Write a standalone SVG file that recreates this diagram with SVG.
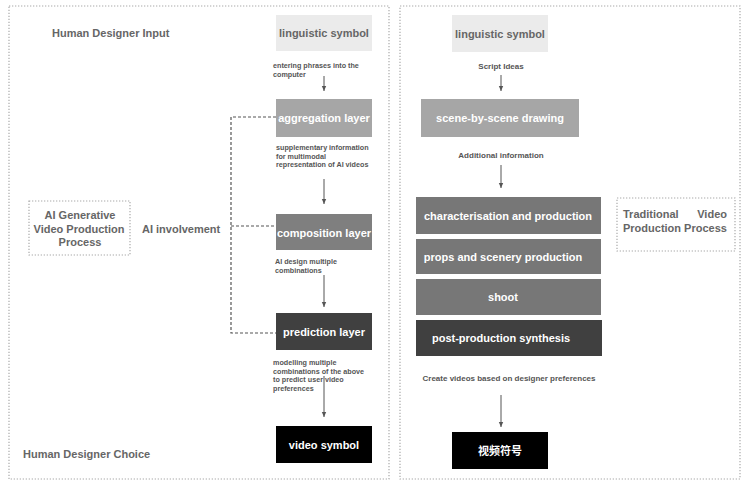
<svg xmlns="http://www.w3.org/2000/svg" width="742" height="481" viewBox="0 0 742 481">
<style>
text{font-family:"Liberation Sans",Arial,sans-serif;font-weight:bold}
.frame{fill:none;stroke:#aaa;stroke-width:1.2;stroke-dasharray:1.3 1.7}
.hd{font-size:11px;fill:#666}
.nt{font-size:11px;fill:#fff;text-anchor:middle}
.lt{font-size:7.2px;fill:#555}
.rt{font-size:8px;fill:#555;text-anchor:middle}
.con{fill:none;stroke:#555;stroke-width:1}
.dash{fill:none;stroke:#555;stroke-width:1.2;stroke-dasharray:3 2}
</style>
<defs>
<marker id="ah" markerWidth="6" markerHeight="6" refX="5" refY="3" orient="auto" markerUnits="userSpaceOnUse">
<path d="M0,0.8 L5,3 L0,5.2 Z" fill="#555"/>
</marker>
</defs>
<rect width="742" height="481" fill="#fff"/>
<g id="frames">
<rect class="frame" x="9" y="6" width="380" height="473"/>
<rect class="frame" x="400" y="6" width="340" height="473"/>
</g>
<g id="labels-left">
<text class="hd" x="52" y="37">Human Designer Input</text>
<text class="hd" x="23" y="458">Human Designer Choice</text>
<text class="hd" x="142" y="233">AI involvement</text>
</g>
<g id="ai-process">
<rect class="frame" x="29" y="201" width="101" height="54"/>
<text class="hd" x="80" y="219" text-anchor="middle">AI Generative</text>
<text class="hd" x="79" y="233" text-anchor="middle">Video Production</text>
<text class="hd" x="80" y="246" text-anchor="middle">Process</text>
</g>
<g id="trad-process">
<rect class="frame" x="617" y="198" width="118" height="53"/>
<text class="hd" x="623" y="218">Traditional</text>
<text class="hd" x="727" y="218" text-anchor="end">Video</text>
<text class="hd" x="623" y="232">Production Process</text>
</g>
<g id="connectors">
<line class="con" x1="324" y1="76" x2="324" y2="91" marker-end="url(#ah)"/>
<line class="con" x1="324" y1="179" x2="324" y2="204" marker-end="url(#ah)"/>
<line class="con" x1="324" y1="275" x2="324" y2="307" marker-end="url(#ah)"/>
<line class="con" x1="324" y1="376" x2="324" y2="417" marker-end="url(#ah)"/>
<line class="con" x1="501" y1="75" x2="501" y2="91" marker-end="url(#ah)"/>
<line class="con" x1="501" y1="165" x2="501" y2="188" marker-end="url(#ah)"/>
<line class="con" x1="501" y1="395" x2="501" y2="427" marker-end="url(#ah)"/>
<path class="dash" d="M276,117 H231 V333 H276"/>
<line class="dash" x1="231" y1="226" x2="276" y2="226"/>
</g>
<g id="edge-labels">
<text class="lt" x="273" y="68">entering phrases into the</text>
<text class="lt" x="273" y="77">computer</text>
<text class="lt" x="276" y="150">supplementary information</text>
<text class="lt" x="276" y="158.5">for multimodal</text>
<text class="lt" x="276" y="167">representation of AI videos</text>
<text class="lt" x="275" y="264">AI design multiple</text>
<text class="lt" x="275" y="273">combinations</text>
<text class="lt" x="273" y="365">modelling multiple</text>
<text class="lt" x="273" y="373.5">combinations of the above</text>
<text class="lt" x="273" y="382">to predict user video</text>
<text class="lt" x="273" y="390.5">preferences</text>
<text class="rt" x="501" y="69">Script Ideas</text>
<text class="rt" x="501" y="158">Additional information</text>
<text class="rt" x="509" y="381">Create videos based on designer preferences</text>
</g>
<g id="n-ling-left">
<rect x="276" y="15" width="96" height="36" fill="#ebebeb"/>
<text class="nt" x="324" y="37" style="fill:#666">linguistic symbol</text>
</g>
<g id="n-aggregation">
<rect x="276" y="99" width="96" height="38" fill="#a6a6a6"/>
<text class="nt" x="324" y="122">aggregation layer</text>
</g>
<g id="n-composition">
<rect x="276" y="214" width="96" height="36" fill="#7f7f7f"/>
<text class="nt" x="324" y="237">composition layer</text>
</g>
<g id="n-prediction">
<rect x="276" y="313" width="96" height="37" fill="#404040"/>
<text class="nt" x="324" y="336">prediction layer</text>
</g>
<g id="n-video">
<rect x="276" y="426" width="96" height="37" fill="#000"/>
<text class="nt" x="324" y="449">video symbol</text>
</g>
<g id="n-ling-right">
<rect x="452" y="15" width="96" height="37" fill="#ebebeb"/>
<text class="nt" x="500" y="38" style="fill:#666">linguistic symbol</text>
</g>
<g id="n-scene">
<rect x="421" y="99" width="158" height="38" fill="#a6a6a6"/>
<text class="nt" x="500" y="122">scene-by-scene drawing</text>
</g>
<g id="n-character">
<rect x="416" y="197" width="185" height="37" fill="#777"/>
<text class="nt" x="508" y="220">characterisation and production</text>
</g>
<g id="n-props">
<rect x="416" y="239" width="185" height="35" fill="#777"/>
<text class="nt" x="503" y="261">props and scenery production</text>
</g>
<g id="n-shoot">
<rect x="416" y="279" width="185" height="36" fill="#777"/>
<text class="nt" x="503" y="301">shoot</text>
</g>
<g id="n-post">
<rect x="416" y="320" width="186" height="36" fill="#404040"/>
<text class="nt" x="501" y="342">post-production synthesis</text>
</g>
<g id="n-video-cn">
<rect x="452" y="432" width="96" height="37" fill="#000"/>
<text class="nt" x="500" y="455" style="font-family:'Liberation Sans','Noto Sans CJK SC',sans-serif">视频符号</text>
</g>
</svg>
